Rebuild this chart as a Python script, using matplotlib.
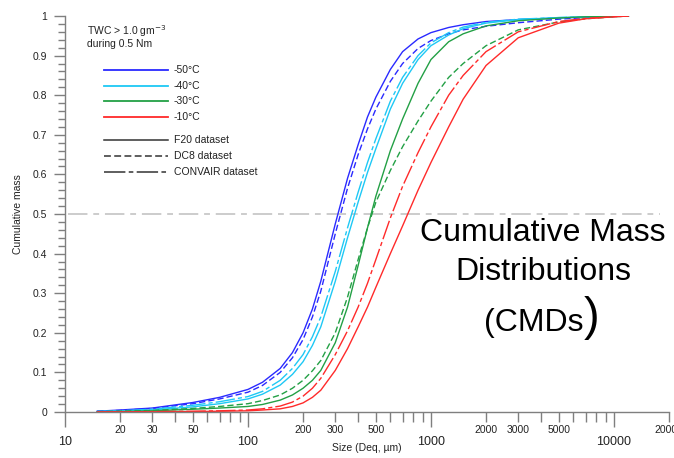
import numpy as np
import matplotlib
matplotlib.use("Agg")
from matplotlib import pyplot as plt
from matplotlib.lines import Line2D

plt.rcParams['font.family'] = ['Liberation Sans', 'DejaVu Sans']

# particle size grid (Deq, um)
sizes = [15, 20, 30, 50, 70, 100, 120, 150, 175, 200, 225, 250, 300, 350, 400,
         450, 500, 600, 700, 850, 1000, 1250, 1500, 2000, 3000, 5000, 7000,
         10000, 12000]

# cumulative mass
blue_f20 = [0.002, 0.005, 0.010, 0.024, 0.037, 0.057, 0.075, 0.110, 0.150, 0.200,
            0.260, 0.330, 0.475, 0.590, 0.675, 0.745, 0.795, 0.865, 0.910, 0.942,
            0.958, 0.971, 0.978, 0.986, 0.991, 0.995, 0.997, 0.999, 1.0]
blue_dc8 = [0.002, 0.004, 0.009, 0.021, 0.033, 0.050, 0.067, 0.100, 0.137, 0.183,
            0.240, 0.305, 0.450, 0.565, 0.650, 0.715, 0.765, 0.835, 0.880, 0.918,
            0.938, 0.955, 0.965, 0.974, 0.983, 0.992, 0.996, 0.999, 1.0]
cyan_cv = [0.0015, 0.003, 0.007, 0.017, 0.026, 0.039, 0.052, 0.080, 0.110, 0.145,
           0.190, 0.240, 0.355, 0.465, 0.555, 0.630, 0.690, 0.785, 0.845, 0.900,
           0.932, 0.958, 0.972, 0.984, 0.992, 0.996, 0.998, 0.999, 1.0]
cyan_f20 = [0.001, 0.002, 0.005, 0.013, 0.021, 0.033, 0.045, 0.068, 0.095, 0.127,
            0.168, 0.215, 0.330, 0.440, 0.530, 0.605, 0.665, 0.765, 0.830, 0.890,
            0.925, 0.952, 0.968, 0.982, 0.991, 0.996, 0.998, 0.999, 1.0]
green_f20 = [0.0005, 0.001, 0.003, 0.007, 0.010, 0.014, 0.019, 0.030, 0.043, 0.060,
             0.080, 0.105, 0.175, 0.265, 0.370, 0.465, 0.545, 0.660, 0.740, 0.830,
             0.890, 0.935, 0.955, 0.975, 0.988, 0.995, 0.998, 0.999, 1.0]
green_dc8 = [0.001, 0.002, 0.004, 0.009, 0.014, 0.021, 0.029, 0.043, 0.060, 0.080,
             0.104, 0.130, 0.200, 0.290, 0.385, 0.465, 0.530, 0.610, 0.670, 0.735,
             0.785, 0.845, 0.880, 0.925, 0.965, 0.985, 0.993, 0.998, 1.0]
red_cv = [0.0, 0.0003, 0.001, 0.002, 0.003, 0.005, 0.008, 0.015, 0.025, 0.040,
          0.060, 0.085, 0.145, 0.205, 0.265, 0.325, 0.385, 0.490, 0.570, 0.655,
          0.720, 0.800, 0.850, 0.910, 0.960, 0.986, 0.994, 0.998, 1.0]
red_f20 = [0.0, 0.0002, 0.0005, 0.001, 0.002, 0.003, 0.005, 0.008, 0.014, 0.023,
           0.037, 0.055, 0.105, 0.160, 0.215, 0.265, 0.315, 0.400, 0.470, 0.560,
           0.630, 0.720, 0.790, 0.875, 0.945, 0.982, 0.993, 0.998, 1.0]

temps = ['-50°C', '-40°C', '-30°C', '-10°C']
datasets = ['F20 dataset', 'DC8 dataset', 'CONVAIR dataset']

BLUE = '#2a2aff'
CYAN = '#1ec8f5'
GREEN = '#23a045'
RED = '#ff2a2a'
GRAY = '#7f7f7f'
colors = [BLUE, CYAN, GREEN, RED]

DASHED = (0, (4.5, 2.2))
DASHDOT = (0, (14, 2.2, 3, 2.2))
styles = ['-', DASHED, DASHDOT]

W, H = 674, 458
fig = plt.figure(figsize=(W / 100, H / 100), dpi=100)
ax = fig.add_axes([65 / W, (H - 412) / H, 604 / W, 396 / H])


def fx(px):
    return px / W


def fy(py):
    return 1 - py / H


lw = 1.0
ax.plot(sizes, blue_f20, color=BLUE, lw=lw, ls='-')
ax.plot(sizes, blue_dc8, color=BLUE, lw=lw, ls=DASHED)
ax.plot(sizes, cyan_cv, color=CYAN, lw=lw, ls=DASHDOT)
ax.plot(sizes, cyan_f20, color=CYAN, lw=lw, ls='-')
ax.plot(sizes, green_f20, color=GREEN, lw=lw, ls='-')
ax.plot(sizes, green_dc8, color=GREEN, lw=lw, ls=DASHED)
ax.plot(sizes, red_cv, color=RED, lw=lw, ls=DASHDOT)
ax.plot(sizes, red_f20, color=RED, lw=lw, ls='-')

# median line
ax.axhline(0.5, xmin=0.005, xmax=0.985, color='#cccccc', lw=1.4,
           ls=(0, (10, 3, 3, 3)), zorder=0)

ax.set_xscale('log')
ax.set_xlim(10, 20000)
ax.set_ylim(0, 1)

for s in ['top', 'right']:
    ax.spines[s].set_visible(False)
for s in ['left', 'bottom']:
    ax.spines[s].set_color(GRAY)
    ax.spines[s].set_linewidth(1.0)

# x ticks: decades as majors, labelled minors in between
major_x = [10, 100, 1000, 10000]
minor_x = [m * d for d in [10, 100, 1000] for m in range(2, 10)] + [20000]
minor_lab = {20, 30, 50, 200, 300, 500, 2000, 3000, 5000, 20000}
ax.set_xticks(major_x, [str(v) for v in major_x])
ax.set_xticks(minor_x, [str(v) if v in minor_lab else '' for v in minor_x], minor=True)
ax.tick_params(axis='x', which='major', length=11, width=1, color=GRAY,
               labelsize=9, pad=6.5, labelcolor='#222222')
ax.tick_params(axis='x', which='minor', length=7, width=1, color=GRAY,
               labelsize=7.5, pad=2.5, labelcolor='#222222')

yt = np.round(np.arange(0, 1.01, 0.1), 1)
ax.set_yticks(yt, ['0' if v == 0 else ('1' if v == 1 else f'{v:.1f}') for v in yt])
ax.set_yticks(np.round(np.arange(0, 1.001, 0.02), 2), minor=True)
ax.tick_params(axis='y', which='major', length=8, width=1, color=GRAY,
               labelsize=7.5, pad=5, labelcolor='#222222')
ax.tick_params(axis='y', which='minor', length=5, width=1, color=GRAY)

fig.text(fx(367), fy(448), 'Size (Deq, µm)', fontsize=7.5, ha='center',
         va='center', color='#222222')
fig.text(fx(18), fy(214), 'Cumulative mass', fontsize=7.5, rotation=90,
         ha='center', va='center', color='#222222')

# hand-made legend
fig.text(fx(87), fy(31), 'TWC > 1.0 gm$^{-3}$', fontsize=7.5, va='center',
         color='#222222')
fig.text(fx(87), fy(44), 'during 0.5 Nm', fontsize=7.5, va='center', color='#222222')
rows_c = [70, 86, 101, 117]
for c, t, r in zip(colors, temps, rows_c):
    fig.add_artist(Line2D([fx(104), fx(168)], [fy(r), fy(r)], color=c, lw=1.3))
    fig.text(fx(174), fy(r), t, fontsize=7.5, va='center', color='#222222')
rows_s = [140, 156, 172]
for st, t, r in zip(styles, datasets, rows_s):
    fig.add_artist(Line2D([fx(104), fx(168)], [fy(r), fy(r)], color='#333333',
                          lw=1.1, ls=st))
    fig.text(fx(174), fy(r), t, fontsize=7.5, va='center', color='#222222')

# big annotation
fig.text(fx(543), fy(233), 'Cumulative Mass', fontsize=23, ha='center', va='center')
fig.text(fx(543), fy(272), 'Distributions', fontsize=23, ha='center', va='center')
fig.text(fx(583), fy(323), '(CMDs', fontsize=23, ha='right', va='center')
fig.text(fx(584), fy(318), ')', fontsize=34, ha='left', va='center')

fig.savefig('out.png', dpi=100)
